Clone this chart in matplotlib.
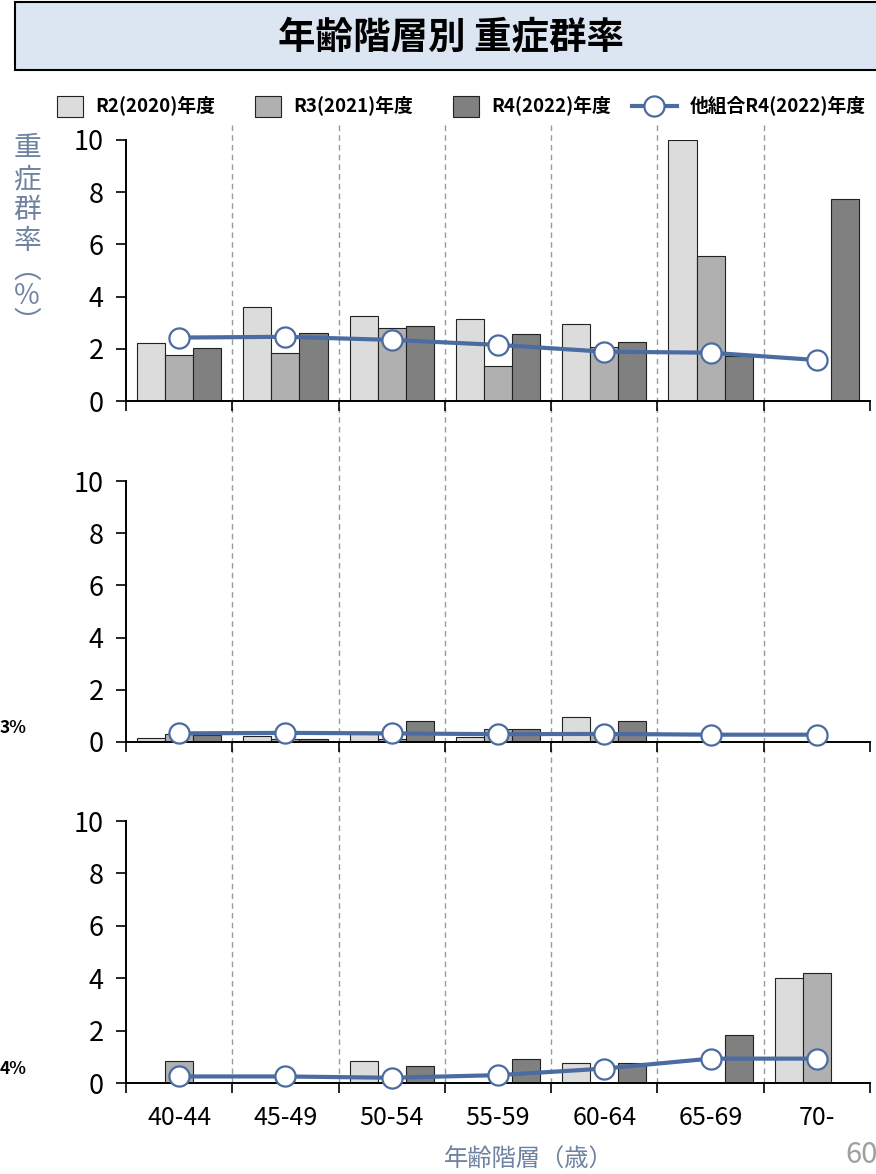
import numpy as np
import matplotlib
matplotlib.use('Agg')
from matplotlib import pyplot as plt
from matplotlib.patches import Rectangle
from matplotlib.lines import Line2D
from matplotlib import transforms

plt.rcParams['font.family'] = ['Noto Sans CJK JP', 'DejaVu Sans']

nan = np.nan
cats = ['40-44', '45-49', '50-54', '55-59', '60-64', '65-69', '70-']
series_names = ['R2(2020)年度', 'R3(2021)年度', 'R4(2022)年度']
line_name = '他組合R4(2022)年度'

# 上段
p1_r2 = [2.23, 3.61, 3.26, 3.15, 2.94, 10.0, nan]
p1_r3 = [1.75, 1.85, 2.81, 1.34, 2.08, 5.57, nan]
p1_r4 = [2.04, 2.62, 2.89, 2.55, 2.27, 1.72, 7.73]
p1_other = [2.43, 2.46, 2.34, 2.15, 1.89, 1.85, 1.57]

# 中段
p2_r2 = [0.14, 0.23, 0.3, 0.18, 0.96, nan, nan]
p2_r3 = [0.3, 0.12, 0.1, 0.5, 0.3, nan, nan]
p2_r4 = [0.28, 0.1, 0.79, 0.49, 0.79, nan, nan]
p2_other = [0.33, 0.35, 0.33, 0.3, 0.31, 0.28, 0.28]

# 下段
p3_r2 = [nan, nan, 0.83, nan, 0.77, nan, 4.0]
p3_r3 = [0.84, nan, nan, nan, nan, nan, 4.18]
p3_r4 = [nan, nan, 0.66, 0.92, 0.77, 1.84, nan]
p3_other = [0.25, 0.25, 0.2, 0.3, 0.55, 0.93, 0.93]

side_labels = ['', '3%', '4%']

panels = [
    (p1_r2, p1_r3, p1_r4, p1_other),
    (p2_r2, p2_r3, p2_r4, p2_other),
    (p3_r2, p3_r3, p3_r4, p3_other),
]

bar_colors = ['#dcdcdc', '#b0b0b0', '#808080']
line_color = '#4a6ca0'
label_color = '#6f82a0'

W, H = 876, 1174
fig = plt.figure(figsize=(W / 100, H / 100), dpi=100)

def fx(px):
    return px / W

def fy(py):
    return 1 - py / H

# 各パネルの位置 (ピクセル: 上端, 下端)
panel_px = [(140, 401), (481, 742), (821, 1083)]
left_px, right_px = 126, 870

x = np.arange(len(cats))
bw = 0.264
axes = []
for i, (vals, (top, bot)) in enumerate(zip(panels, panel_px)):
    ax = fig.add_axes([fx(left_px), fy(bot), fx(right_px - left_px), (bot - top) / H])
    ax.patch.set_alpha(0)
    for j in range(3):
        ax.bar(x + (j - 1) * bw, vals[j], width=bw, color=bar_colors[j],
               edgecolor='#222222', linewidth=0.8, zorder=2)
    ax.plot(x, vals[3], color=line_color, lw=3, marker='o', markersize=14.5,
            markerfacecolor='white', markeredgecolor=line_color,
            markeredgewidth=1.6, zorder=3, clip_on=False)
    ax.set_xlim(-0.5, len(cats) - 0.5)
    ax.set_ylim(0, 10)
    ax.set_yticks(range(0, 11, 2))
    ax.set_xticks(np.arange(-0.5, len(cats), 1.0))
    ax.set_xticklabels([])
    ax.tick_params(axis='x', which='major', direction='out', length=7, width=1.2)
    ax.tick_params(axis='y', direction='out', length=7, width=1.2, labelsize=19.5, pad=9)
    if i == 2:
        ax.set_xticks(x, minor=True)
        ax.set_xticklabels(cats, minor=True, fontsize=18)
        ax.tick_params(axis='x', which='minor', length=0, pad=16)
    for s in ['top', 'right']:
        ax.spines[s].set_visible(False)
    for s in ['left', 'bottom']:
        ax.spines[s].set_linewidth(1.4)
    if side_labels[i]:
        ymid = bot - 14
        fig.text(0.0, fy(ymid), side_labels[i], fontsize=12.5, fontweight='bold',
                 ha='left', va='center')
    axes.append(ax)

# 区切りの破線
tr = transforms.blended_transform_factory(axes[2].transData, fig.transFigure)
for b in np.arange(0.5, len(cats) - 1, 1.0):
    fig.add_artist(Line2D([b, b], [fy(125), fy(1083)], transform=tr,
                          color='#9a9a9a', lw=1.0, ls=(0, (4, 3)), zorder=-1))

# タイトル
fig.add_artist(Rectangle((fx(15), fy(70)), 1.0, 68 / H, transform=fig.transFigure,
                         facecolor='#dce6f2', edgecolor='black', lw=1.5))
fig.text(fx(451), fy(38), '年齢階層別 重症群率', fontsize=27, fontweight='bold',
         ha='center', va='center')

# 凡例
leg_y = 106
patch_x = [57, 255, 453]
for j in range(3):
    fig.add_artist(Rectangle((fx(patch_x[j]), fy(leg_y + 11)), 26 / W, 21 / H,
                             transform=fig.transFigure, facecolor=bar_colors[j],
                             edgecolor='#222222', lw=0.8))
    fig.text(fx(patch_x[j] + 38), fy(leg_y), series_names[j], fontsize=13.5,
             fontweight='bold', ha='left', va='center')
fig.add_artist(Line2D([fx(632), fx(677)], [fy(leg_y), fy(leg_y)], transform=fig.transFigure,
                      color=line_color, lw=3, zorder=3))
fig.add_artist(Line2D([fx(654)], [fy(leg_y)], transform=fig.transFigure,
                      color=line_color, lw=0, marker='o', markersize=14.5,
                      markerfacecolor='white', markeredgecolor=line_color,
                      markeredgewidth=1.6, zorder=4))
fig.text(fx(690), fy(leg_y), line_name, fontsize=13.5, fontweight='bold',
         ha='left', va='center')

# 軸ラベル
fig.text(fx(27), fy(133), '重\n症\n群\n率', fontsize=20, color=label_color,
         ha='center', va='top', linespacing=1.05)
fig.text(fx(27), fy(296), '︵\n％\n︶', fontsize=20, color=label_color,
         ha='center', va='center', linespacing=0.85)
fig.text(fx(529), fy(1160), '年齢階層（歳）', fontsize=17.5, color=label_color,
         ha='center', va='center')
fig.text(fx(845), fy(1155), '60', fontsize=21, color='#a0a0a0',
         ha='left', va='center')

plt.savefig('out.png', dpi=100)
